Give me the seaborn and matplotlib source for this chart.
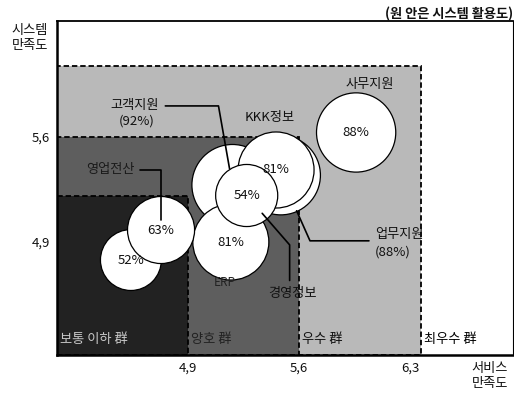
import matplotlib
matplotlib.use("Agg")
import matplotlib.pyplot as plt
import seaborn as sns
import pandas as pd
from matplotlib.patches import Rectangle

# ---------------- data ----------------
systems = ["", "업무지원", "고객지원", "ERP", "KKK정보", "경영정보", "영업전산", "사무지원"]
service_sat = [4.54, 5.485, 5.18, 5.17, 5.455, 5.27, 4.73, 5.96]
system_sat = [4.78, 5.345, 5.28, 4.90, 5.38, 5.21, 4.98, 5.63]
usage_pct = [52, 88, 92, 81, 81, 54, 63, 88]
callout_pct = {"업무지원", "고객지원"}

group_labels = ["보통 이하 群", "양호 群", "우수 群", "최우수 群"]
group_x_bounds = [4.9, 5.6, 6.37]
group_y_bounds = [5.21, 5.6, 6.07]

x_ticks = [4.9, 5.6, 6.3]
x_tick_labels = ["4,9", "5,6", "6,3"]
y_ticks = [4.9, 5.6]
y_tick_labels = ["4,9", "5,6"]

title = "(원 안은 시스템 활용도)"
y_title = "시스템\n만족도"
x_title = "서비스\n만족도"

df = pd.DataFrame({"system": systems, "service": service_sat,
                   "satisfaction": system_sat, "usage": usage_pct})

# ---------------- style ----------------
sns.set_style("white")
plt.rcParams["font.family"] = ["Noto Sans CJK KR", "DejaVu Sans"]

fig = plt.figure(figsize=(5.14, 3.96), dpi=100)
ax = fig.add_axes([57 / 514, 41 / 396, 456 / 514, 334 / 396])
xlim = (4.074, 6.949)
ylim = (4.147, 6.373)
ax.set_xlim(*xlim)
ax.set_ylim(*ylim)

# group regions (light -> dark)
region_colors = ["#b9b9b9", "#5e5e5e", "#222222"]
dash = (0, (3, 1.6))
for i, col in zip([2, 1, 0], region_colors):
    ax.add_patch(Rectangle((xlim[0], ylim[0]), group_x_bounds[i] - xlim[0],
                           group_y_bounds[i] - ylim[0], facecolor=col,
                           edgecolor="black", linestyle=dash, linewidth=1.3,
                           zorder=0.5))

# bubbles
sns.scatterplot(data=df, x="service", y="satisfaction", size="usage",
                sizes=(52 * 37, 92 * 37), size_norm=(52, 92), legend=False,
                color="white", edgecolor="black", linewidth=0.9, alpha=1,
                zorder=2, ax=ax)

for name, xv, yv, p in zip(systems, service_sat, system_sat, usage_pct):
    if name not in callout_pct:
        ax.text(xv, yv, f"{p}%", ha="center", va="center", fontsize=9.5,
                color="#111111", zorder=5)

pos = dict(zip(systems, zip(service_sat, system_sat)))
pct = dict(zip(systems, usage_pct))

lbl_kw = dict(fontsize=9.5, zorder=6)
ln = dict(arrowstyle="-", color="black", lw=1.2)

# callouts
ax.annotate("고객지원", xy=pos["고객지원"], xytext=(4.566, 5.807),
            ha="center", va="center", color="#111111",
            arrowprops=dict(**ln, relpos=(1, 0.5), shrinkA=2, shrinkB=12,
                            connectionstyle="angle,angleA=0,angleB=100,rad=0"),
            **lbl_kw)
ax.text(4.578, 5.707, f"({pct['고객지원']}%)", ha="center", va="center",
        color="#111111", **lbl_kw)

ax.annotate("영업전산", xy=pos["영업전산"], xytext=(4.408, 5.38),
            ha="center", va="center", color="#1a1a1a",
            arrowprops=dict(**ln, relpos=(1, 0.5), shrinkA=2, shrinkB=7,
                            connectionstyle="angle,angleA=0,angleB=90,rad=0"),
            **lbl_kw)

ax.annotate("업무지원", xy=pos["업무지원"], xytext=(6.079, 4.947),
            ha="left", va="center", color="#111111",
            arrowprops=dict(**ln, relpos=(0, 0.05), shrinkA=2, shrinkB=28,
                            connectionstyle="angle,angleA=0,angleB=114,rad=0"),
            **lbl_kw)
ax.text(6.079, 4.833, f"({pct['업무지원']}%)", ha="left", va="center",
        color="#111111", **lbl_kw)

ax.annotate("경영정보", xy=pos["경영정보"], xytext=(5.556, 4.56),
            ha="center", va="center", color="#111111",
            arrowprops=dict(**ln, relpos=(0.45, 1), shrinkA=2, shrinkB=17,
                            connectionstyle="angle,angleA=90,angleB=131,rad=0"),
            **lbl_kw)

ax.text(6.048, 5.947, "사무지원", ha="center", va="center", color="#111111", **lbl_kw)
ax.text(5.417, 5.733, "KKK정보", ha="center", va="center", color="#111111", **lbl_kw)
ax.text(5.133, 4.627, "ERP", ha="center", va="center", color="#222222",
        fontsize=8.5, zorder=6)

# group labels
group_x_left = [xlim[0]] + group_x_bounds
group_text_colors = ["#c8c8c8", "#222222", "#111111", "#000000"]
for lab, xl, tc in zip(group_labels, group_x_left, group_text_colors):
    ax.text(xl + 0.02, 4.247, lab, ha="left", va="center", fontsize=9.5,
            color=tc, zorder=6)

# axes / ticks
ax.set_xticks(x_ticks)
ax.set_xticklabels(x_tick_labels)
ax.set_yticks(y_ticks)
ax.set_yticklabels(y_tick_labels)
ax.set_xlabel("")
ax.set_ylabel("")
ax.tick_params(axis="both", labelsize=9.5, length=0, pad=5, colors="#111111")
for side, lw in [("left", 1.8), ("bottom", 1.8), ("top", 1.3), ("right", 0.8)]:
    ax.spines[side].set_visible(True)
    ax.spines[side].set_color("black")
    ax.spines[side].set_linewidth(lw)

fig.text(513 / 514, 1 - 14 / 396, title, ha="right", va="center",
         fontsize=9.5, fontweight="bold", color="#111111")
fig.text(30 / 514, 1 - 38 / 396, y_title, ha="center", va="center",
         fontsize=9.5, linespacing=1.15, color="#111111")
fig.text(490 / 514, 1 - 376 / 396, x_title, ha="center", va="center",
         fontsize=9.5, linespacing=1.15, color="#111111")

fig.savefig("out.png", dpi=100)
